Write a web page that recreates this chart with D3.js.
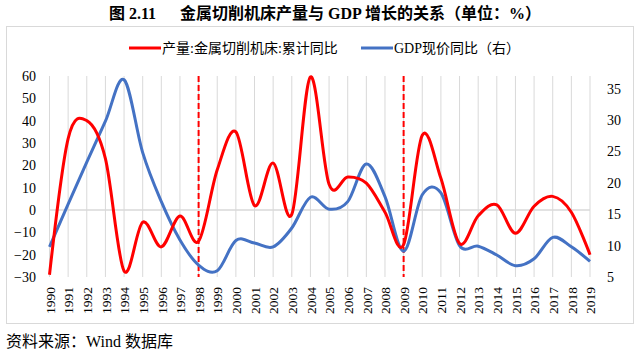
<!DOCTYPE html>
<html>
<head>
<meta charset="utf-8">
<script src="https://cdn.jsdelivr.net/npm/d3@7/dist/d3.min.js"></script>
<style>
  body { margin: 0; background: #fff; }
  svg { display: block; }
</style>
</head>
<body>
<svg id="chart"></svg>
<script>
// data
const years = ["1990","1991","1992","1993","1994","1995","1996","1997","1998","1999",
  "2000","2001","2002","2003","2004","2005","2006","2007","2008","2009",
  "2010","2011","2012","2013","2014","2015","2016","2017","2018","2019"];
const machineToolOutput = [-29, 32, 40, 23, -27.3, -5.5, -16.5, -2.7, -14, 18,
  35, 2, 21, -2, 59.6, 11.5, 14.8, 12, -1, -15.5,
  33.5, 14.2, -15, -2.6, 2.3, -10.4, 1.7, 6.1, -1, -20];
const gdpGrowth = [9.8, 16.6, 23.3, 29.8, 36.4, 24.8, 17.0, 10.9, 6.9, 6.0,
  10.8, 10.4, 9.8, 12.8, 17.7, 15.8, 17.0, 23.0, 17.8, 9.1,
  18.1, 18.4, 10.0, 9.9, 8.5, 6.8, 7.9, 11.3, 9.8, 7.5];
const leftTicks = [-30, -20, -10, 0, 10, 20, 30, 40, 50, 60];
const rightTicks = [5, 10, 15, 20, 25, 30, 35];
const markedYears = ["1998", "2009"];
const seriesNames = ["产量:金属切削机床:累计同比", "GDP现价同比（右）"];
const titleLabel = "图 2.11";
const titleText = "金属切削机床产量与 GDP 增长的关系（单位：%）";
const sourceText = "资料来源：Wind 数据库";

const width = 640, height = 353;
const serif = "'Liberation Serif', 'Times New Roman', 'Noto Sans CJK SC', serif";
const red = "#ff0000", blue = "#4472c4", grid = "#d9d9d9";

const svg = d3.select("#chart")
    .attr("width", width)
    .attr("height", height)
    .style("font-family", serif);

const x = d3.scalePoint().domain(years).range([49.5, 590]);
const yLeft = d3.scaleLinear().domain([-30, 60]).range([277, 76]);
const yRight = d3.scaleLinear().domain([5, 37]).range([277, 76]);

// title
svg.append("text")
    .attr("x", 109).attr("y", 19)
    .attr("font-size", 16).attr("font-weight", "bold")
    .text(titleLabel);
svg.append("text")
    .attr("x", 180).attr("y", 19)
    .attr("font-size", 16).attr("font-weight", "bold")
    .text(titleText);

// chart frame
svg.append("rect")
    .attr("x", 6.5).attr("y", 26.5)
    .attr("width", 627).attr("height", 297)
    .attr("fill", "none")
    .attr("stroke", grid);

// legend
const legend = svg.append("g");
[[129, red], [361, blue]].forEach(([lx, c], i) => {
    legend.append("line")
        .attr("x1", lx).attr("x2", lx + 32)
        .attr("y1", 48).attr("y2", 48)
        .attr("stroke", c).attr("stroke-width", 3);
    legend.append("text")
        .attr("x", lx + 33).attr("y", 53)
        .attr("font-size", 14)
        .text(seriesNames[i]);
});

// vertical gridlines
svg.append("g")
    .selectAll("line")
    .data(years)
    .join("line")
    .attr("x1", d => x(d)).attr("x2", d => x(d))
    .attr("y1", yLeft(60)).attr("y2", yLeft(-30))
    .attr("stroke", grid).attr("stroke-width", 1);

// zero line
svg.append("line")
    .attr("x1", x(years[0])).attr("x2", x(years[years.length - 1]))
    .attr("y1", yLeft(0)).attr("y2", yLeft(0))
    .attr("stroke", grid).attr("stroke-width", 1.5);

// left axis
const leftAxis = svg.append("g")
    .attr("transform", "translate(36,0)")
    .call(d3.axisLeft(yLeft).tickValues(leftTicks).tickSize(0).tickPadding(0));
leftAxis.select(".domain").remove();
leftAxis.selectAll("text").attr("font-size", 14).attr("font-family", serif).attr("fill", "#000");

// right axis
const rightAxis = svg.append("g")
    .attr("transform", "translate(607,0)")
    .call(d3.axisRight(yRight).tickValues(rightTicks).tickSize(0).tickPadding(0));
rightAxis.select(".domain").remove();
rightAxis.selectAll("text").attr("font-size", 14).attr("font-family", serif).attr("fill", "#000");

// x labels, rotated
const xAxis = svg.append("g")
    .attr("transform", "translate(0,287)")
    .call(d3.axisBottom(x).tickSize(0).tickPadding(0));
xAxis.select(".domain").remove();
xAxis.selectAll("text")
    .attr("font-size", 13.5).attr("font-family", serif).attr("fill", "#000")
    .attr("transform", "rotate(-90)")
    .attr("text-anchor", "end")
    .attr("dx", 0).attr("dy", "0.35em")
    .attr("x", 0).attr("y", 0);

// dashed markers
svg.append("g")
    .selectAll("line")
    .data(markedYears)
    .join("line")
    .attr("x1", d => x(d)).attr("x2", d => x(d))
    .attr("y1", yLeft(60)).attr("y2", yLeft(-30))
    .attr("stroke", red).attr("stroke-width", 2)
    .attr("stroke-dasharray", "6,3");

// series
const lineLeft = d3.line()
    .x((d, i) => x(years[i]))
    .y(d => yLeft(d))
    .curve(d3.curveCardinal.tension(0));
const lineRight = d3.line()
    .x((d, i) => x(years[i]))
    .y(d => yRight(d))
    .curve(d3.curveCardinal.tension(0));

svg.append("path")
    .datum(gdpGrowth)
    .attr("fill", "none")
    .attr("stroke", blue)
    .attr("stroke-width", 3)
    .attr("d", lineRight);

svg.append("path")
    .datum(machineToolOutput)
    .attr("fill", "none")
    .attr("stroke", red)
    .attr("stroke-width", 3)
    .attr("d", lineLeft);

// source
svg.append("text")
    .attr("x", 6).attr("y", 347)
    .attr("font-size", 16)
    .text(sourceText);
</script>
</body>
</html>
